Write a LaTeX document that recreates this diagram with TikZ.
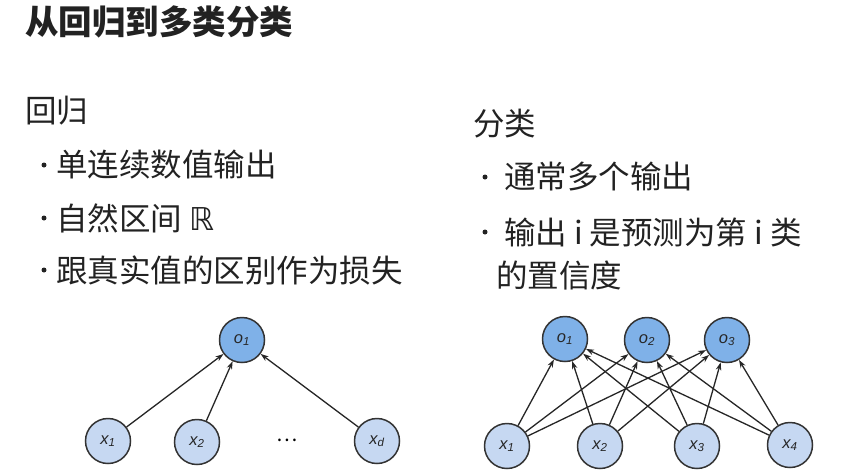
\documentclass[tikz,border=0pt]{standalone}
\usepackage{fontspec}
\setmainfont{Noto Sans CJK SC}
\setsansfont{Liberation Sans}
\newfontfamily\symfont{DejaVu Sans}
\usetikzlibrary{arrows.meta}

\definecolor{inkgray}{HTML}{222222}
\definecolor{outblue}{HTML}{7FB1E8}
\definecolor{inblue}{HTML}{C6D8F2}

\newcommand{\nlab}[2]{#1\textsubscript{#2}}

\tikzset{
	title/.style={anchor=west,inner sep=0pt,text=inkgray,font=\fontsize{33.5}{36}\selectfont\bfseries},
	textline/.style={anchor=west,inner sep=0pt,text=inkgray,font=\fontsize{31.5}{34}\selectfont},
	dotmark/.style={circle,fill=inkgray,inner sep=0pt,minimum size=5pt},
	neuron/.style={circle,draw=black!80,line width=1.5pt,minimum size=45pt,inner sep=0pt,text=black!85,font=\fontsize{16.5}{16.5}\selectfont\sffamily\itshape},
	outneuron/.style={neuron,fill=outblue},
	inneuron/.style={neuron,fill=inblue},
	link/.style={-{Stealth[length=8pt,width=5.5pt]},line width=1.3pt,draw=black!85}
}

\begin{document}
\begin{tikzpicture}[x=1pt,y=-1pt]
	\useasboundingbox[fill=white] (0,0) rectangle (842,474);

	% texts
	\node[title]	(head)	at (25,22)	{从回归到多类分类};
	\node[textline]	(reg)	at (25,111)	{回归};
	\node[dotmark]	(rb1)	at (44,165)	{};
	\node[textline]	(rt1)	at (56,165)	{单连续数值输出};
	\node[dotmark]	(rb2)	at (44,218)	{};
	\node[textline]	(rt2)	at (56,218)	{自然区间 {\symfont ℝ}};
	\node[dotmark]	(rb3)	at (44,270)	{};
	\node[textline]	(rt3)	at (56,270)	{跟真实值的区别作为损失};

	\node[textline]	(cls)	at (473,124)	{分类};
	\node[dotmark]	(cb1)	at (485,177)	{};
	\node[textline]	(ct1)	at (504,177)	{通常多个输出};
	\node[dotmark]	(cb2)	at (485,232)	{};
	\node[textline]	(ct2)	at (504,232)	{输出 i 是预测为第 i 类};
	\node[textline]	(ct3)	at (496,275)	{的置信度};

	% regression net
	\node[outneuron]	(ro1)	at (242,340)	{\nlab{o}{1}};
	\node[inneuron]		(rx1)	at (108,441)	{\nlab{x}{1}};
	\node[inneuron]		(rx2)	at (197,442)	{\nlab{x}{2}};
	\node[inner sep=0pt,font=\fontsize{20}{20}\selectfont]	(rdots)	at (287,440)	{\ldots};
	\node[inneuron]		(rxd)	at (377,441)	{\nlab{x}{d}};

	\draw[link]	(rx1) -- (ro1);
	\draw[link]	(rx2) -- (ro1);
	\draw[link]	(rxd) -- (ro1);

	% classification net
	\node[outneuron]	(co1)	at (565,339)	{\nlab{o}{1}};
	\node[outneuron]	(co2)	at (647,340)	{\nlab{o}{2}};
	\node[outneuron]	(co3)	at (727,340)	{\nlab{o}{3}};
	\node[inneuron]		(cx1)	at (507,446)	{\nlab{x}{1}};
	\node[inneuron]		(cx2)	at (600,446)	{\nlab{x}{2}};
	\node[inneuron]		(cx3)	at (697,446)	{\nlab{x}{3}};
	\node[inneuron]		(cx4)	at (790,445)	{\nlab{x}{4}};

	\draw[link]	(cx1) -- (co1);
	\draw[link]	(cx1) -- (co2);
	\draw[link]	(cx1) -- (co3);
	\draw[link]	(cx2) -- (co1);
	\draw[link]	(cx2) -- (co2);
	\draw[link]	(cx2) -- (co3);
	\draw[link]	(cx3) -- (co1);
	\draw[link]	(cx3) -- (co2);
	\draw[link]	(cx3) -- (co3);
	\draw[link]	(cx4) -- (co1);
	\draw[link]	(cx4) -- (co2);
	\draw[link]	(cx4) -- (co3);
\end{tikzpicture}
\end{document}
